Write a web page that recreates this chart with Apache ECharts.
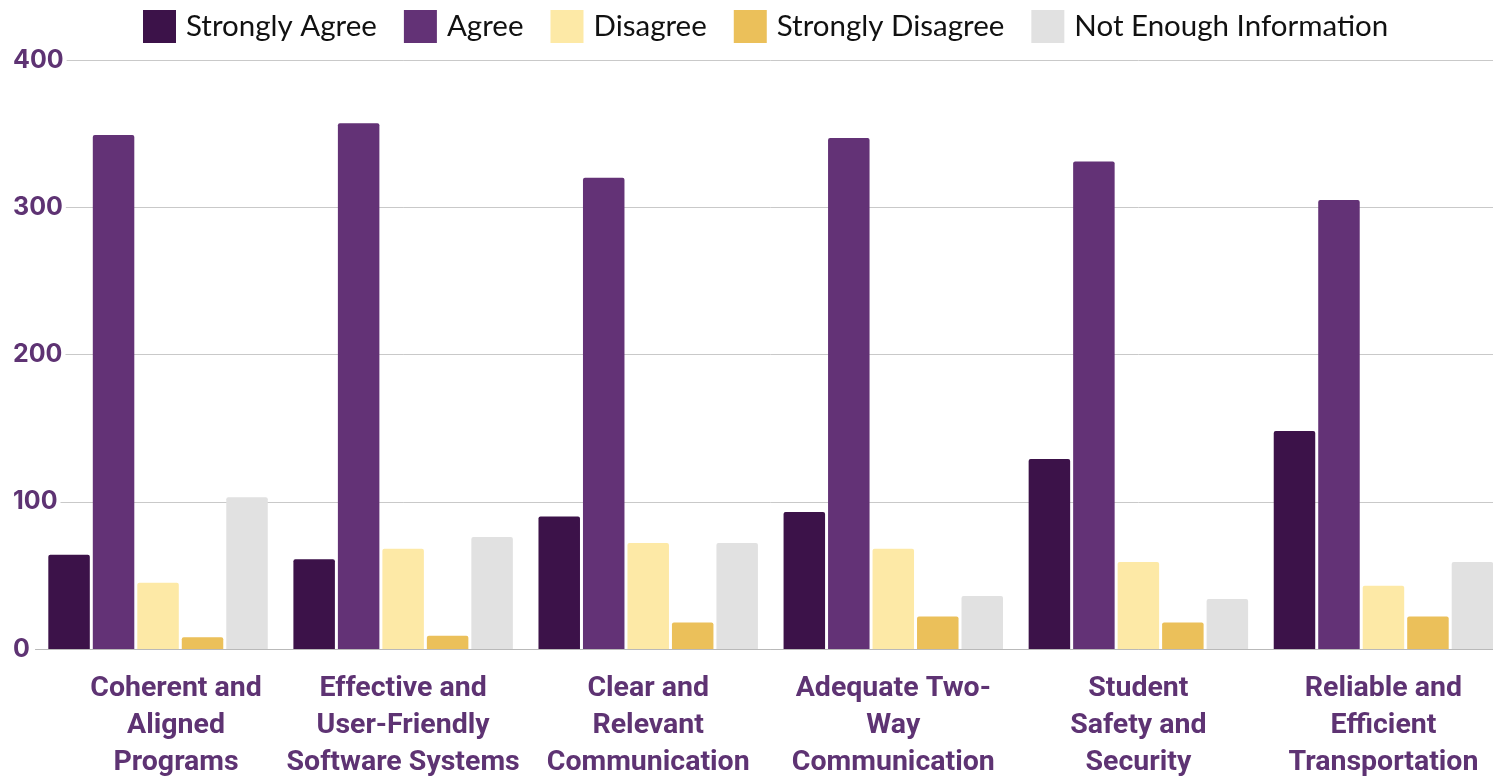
<!DOCTYPE html>
<html>
<head>
<meta charset="utf-8">
<script src="https://cdn.jsdelivr.net/npm/echarts@6/dist/echarts.min.js"></script>
<style>
html,body{margin:0;padding:0;background:#fff;overflow:hidden;}
#chart{width:1506px;height:781px;}
</style>
</head>
<body>
<div id="chart"></div>
<script>
const categories = [
  "Coherent and\nAligned\nPrograms",
  "Effective and\nUser-Friendly\nSoftware Systems",
  "Clear and\nRelevant\nCommunication",
  "Adequate Two-\nWay\nCommunication",
  "Student\nSafety and\nSecurity",
  "Reliable and\nEfficient\nTransportation"
];
const seriesNames = ["Strongly Agree", "Agree", "Disagree", "Strongly Disagree", "Not Enough Information"];
const stronglyAgree = [64, 61, 90, 93, 129, 148];
const agree = [349, 357, 320, 347, 331, 305];
const disagree = [45, 68, 72, 68, 59, 43];
const stronglyDisagree = [8, 9, 18, 22, 18, 22];
const notEnoughInfo = [103, 76, 72, 36, 34, 59];
const yTicks = [0, 100, 200, 300, 400];

const colors = ["#3c1249", "#633276", "#fde9a6", "#ebc05a", "#e1e1e1"];
const seriesData = [stronglyAgree, agree, disagree, stronglyDisagree, notEnoughInfo];

const chart = echarts.init(document.getElementById('chart'));
chart.setOption({
  animation: false,
  color: colors,
  legend: {
    left: 138,
    top: 5,
    itemWidth: 33,
    itemHeight: 33,
    itemGap: 27,
    icon: 'rect',
    textStyle: { fontFamily: 'Lato', fontSize: 29.5, color: '#111', padding: [0, 0, 0, 5] },
    data: seriesNames
  },
  grid: { left: 35.5, right: 0, top: 60, bottom: 129, containLabel: false },
  xAxis: {
    type: 'category',
    data: categories.map((c, i) => i === 0 ? { value: c, textStyle: { padding: [0, 0, 0, 36] } } : c),
    axisTick: { show: false },
    axisLine: { lineStyle: { color: '#b9b9b9', width: 1 } },
    axisLabel: {
      interval: 0,
      margin: 21,
      fontFamily: 'Roboto',
      fontWeight: 'bold',
      fontSize: 28.5,
      lineHeight: 37,
      color: '#5e3373',
      align: 'center'
    }
  },
  yAxis: {
    type: 'value',
    min: yTicks[0],
    max: yTicks[yTicks.length - 1],
    interval: 100,
    axisLine: { show: false },
    axisTick: { show: false },
    splitLine: { lineStyle: { color: '#c9c9c9', width: 1 } },
    axisLabel: {
      align: 'left',
      margin: 22.5,
      fontFamily: 'Inter',
      fontWeight: 'bold',
      fontSize: 25,
      color: '#5e3373',
      backgroundColor: '#fff',
      padding: [0, 3, 0, 0]
    }
  },
  series: seriesNames.map((n, i) => ({
    name: n,
    type: 'bar',
    data: seriesData[i],
    barWidth: 41.5,
    barGap: '7.2%',
    itemStyle: { color: colors[i], borderRadius: [2, 2, 0, 0] }
  }))
});
</script>
</body>
</html>
